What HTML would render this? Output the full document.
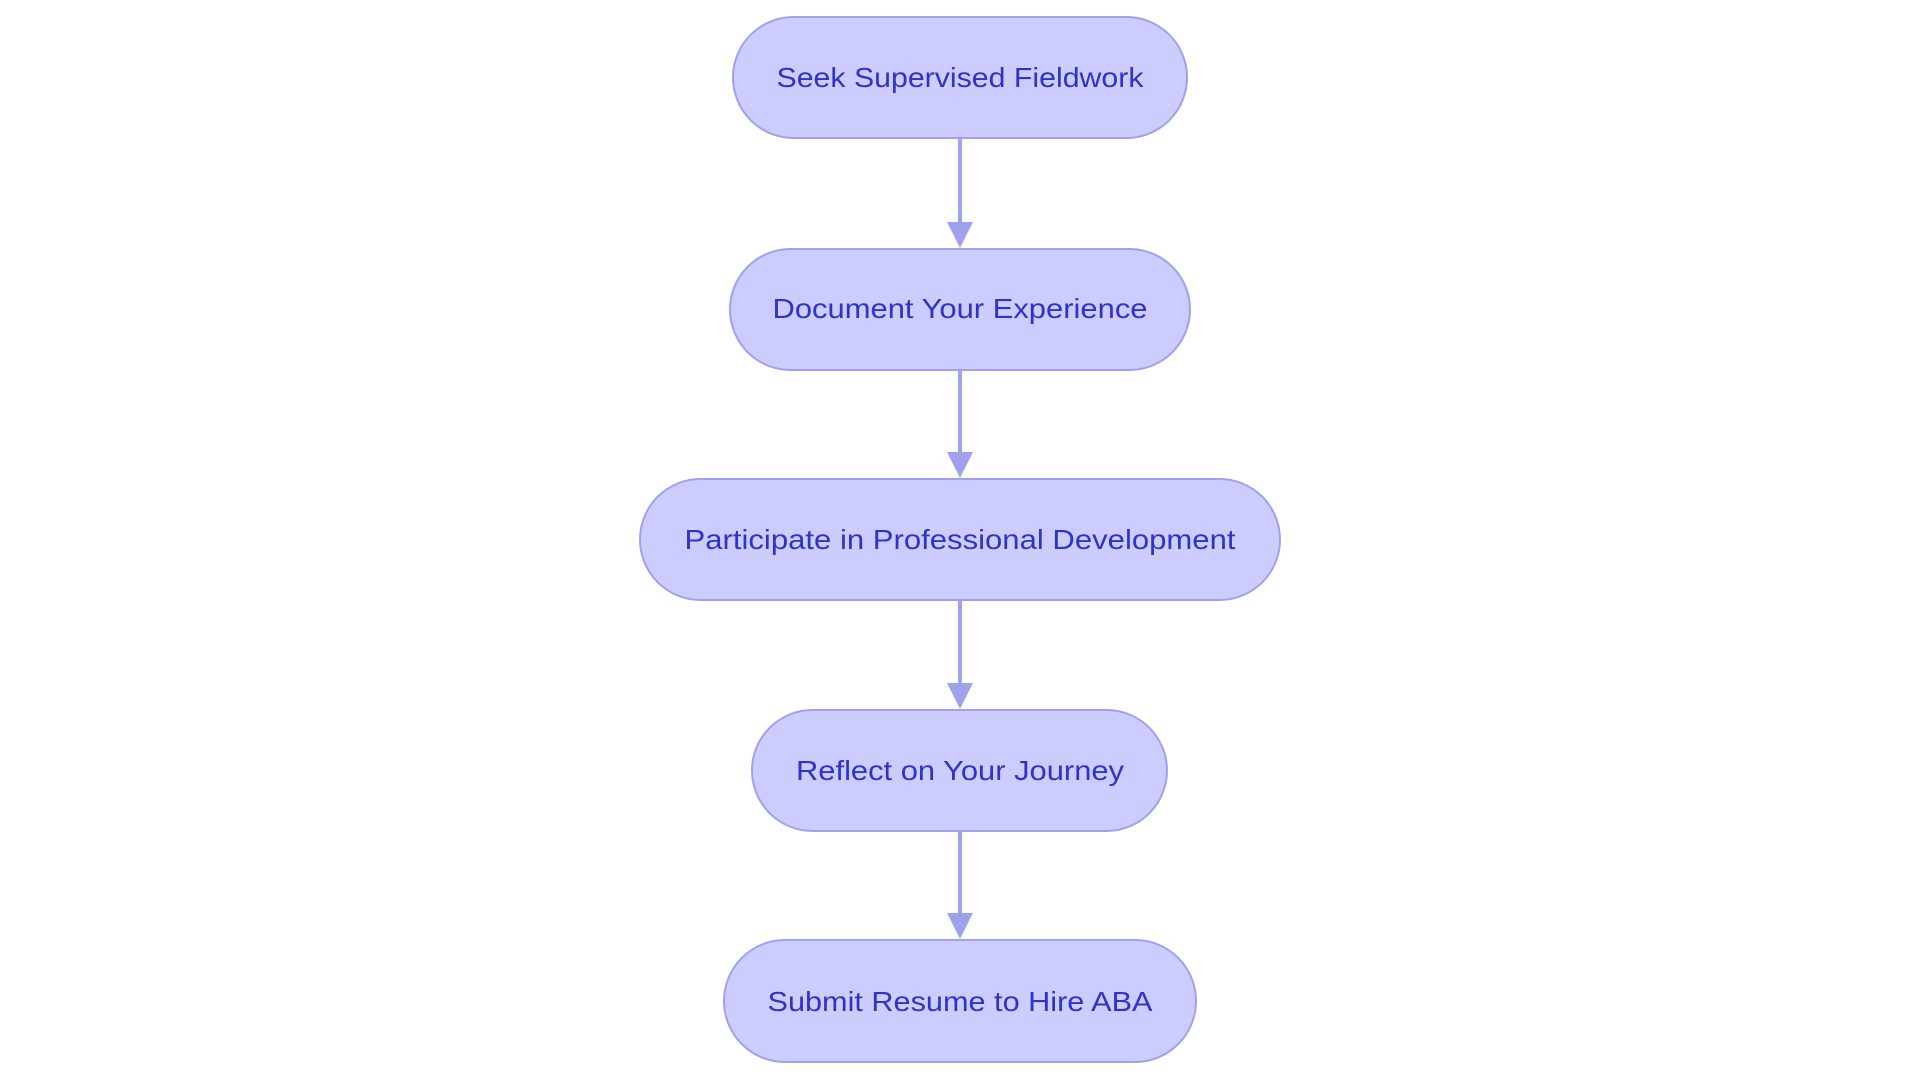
<!DOCTYPE html>
<html><head><meta charset="utf-8"><style>
html,body{margin:0;padding:0;background:#fff;width:1920px;height:1083px;overflow:hidden}
text{font-family:"Liberation Sans",sans-serif;font-size:28px;fill:#2f33c8}
</style></head><body>
<svg width="1920" height="1083" viewBox="0 0 1920 1083" xmlns="http://www.w3.org/2000/svg">
<g stroke="#9ea2ee" stroke-width="4" fill="none">
<line x1="960" y1="138" x2="960" y2="228"/>
<line x1="960" y1="370" x2="960" y2="458"/>
<line x1="960" y1="600" x2="960" y2="689"/>
<line x1="960" y1="831" x2="960" y2="919"/>
</g>
<g fill="#9ea2ee">
<polygon points="947,222 973,222 960,248"/>
<polygon points="947,452 973,452 960,478"/>
<polygon points="947,683 973,683 960,709"/>
<polygon points="947,913 973,913 960,939"/>
</g>
<g fill="#ccccff" stroke="#9ea2ee" stroke-width="2">
<rect x="733" y="17" width="454" height="121" rx="60.5"/>
<rect x="730" y="249" width="460" height="121" rx="60.5"/>
<rect x="640" y="479" width="640" height="121" rx="60.5"/>
<rect x="752" y="710" width="415" height="121" rx="60.5"/>
<rect x="724" y="940" width="472" height="122" rx="61"/>
</g>
<g text-anchor="middle">
<text x="960" y="87" textLength="367" lengthAdjust="spacingAndGlyphs">Seek Supervised Fieldwork</text>
<text x="960" y="318" textLength="375" lengthAdjust="spacingAndGlyphs">Document Your Experience</text>
<text x="960" y="549" textLength="551" lengthAdjust="spacingAndGlyphs">Participate in Professional Development</text>
<text x="960" y="780" textLength="328" lengthAdjust="spacingAndGlyphs">Reflect on Your Journey</text>
<text x="960" y="1011" textLength="385" lengthAdjust="spacingAndGlyphs">Submit Resume to Hire ABA</text>
</g>
</svg>
</body></html>
